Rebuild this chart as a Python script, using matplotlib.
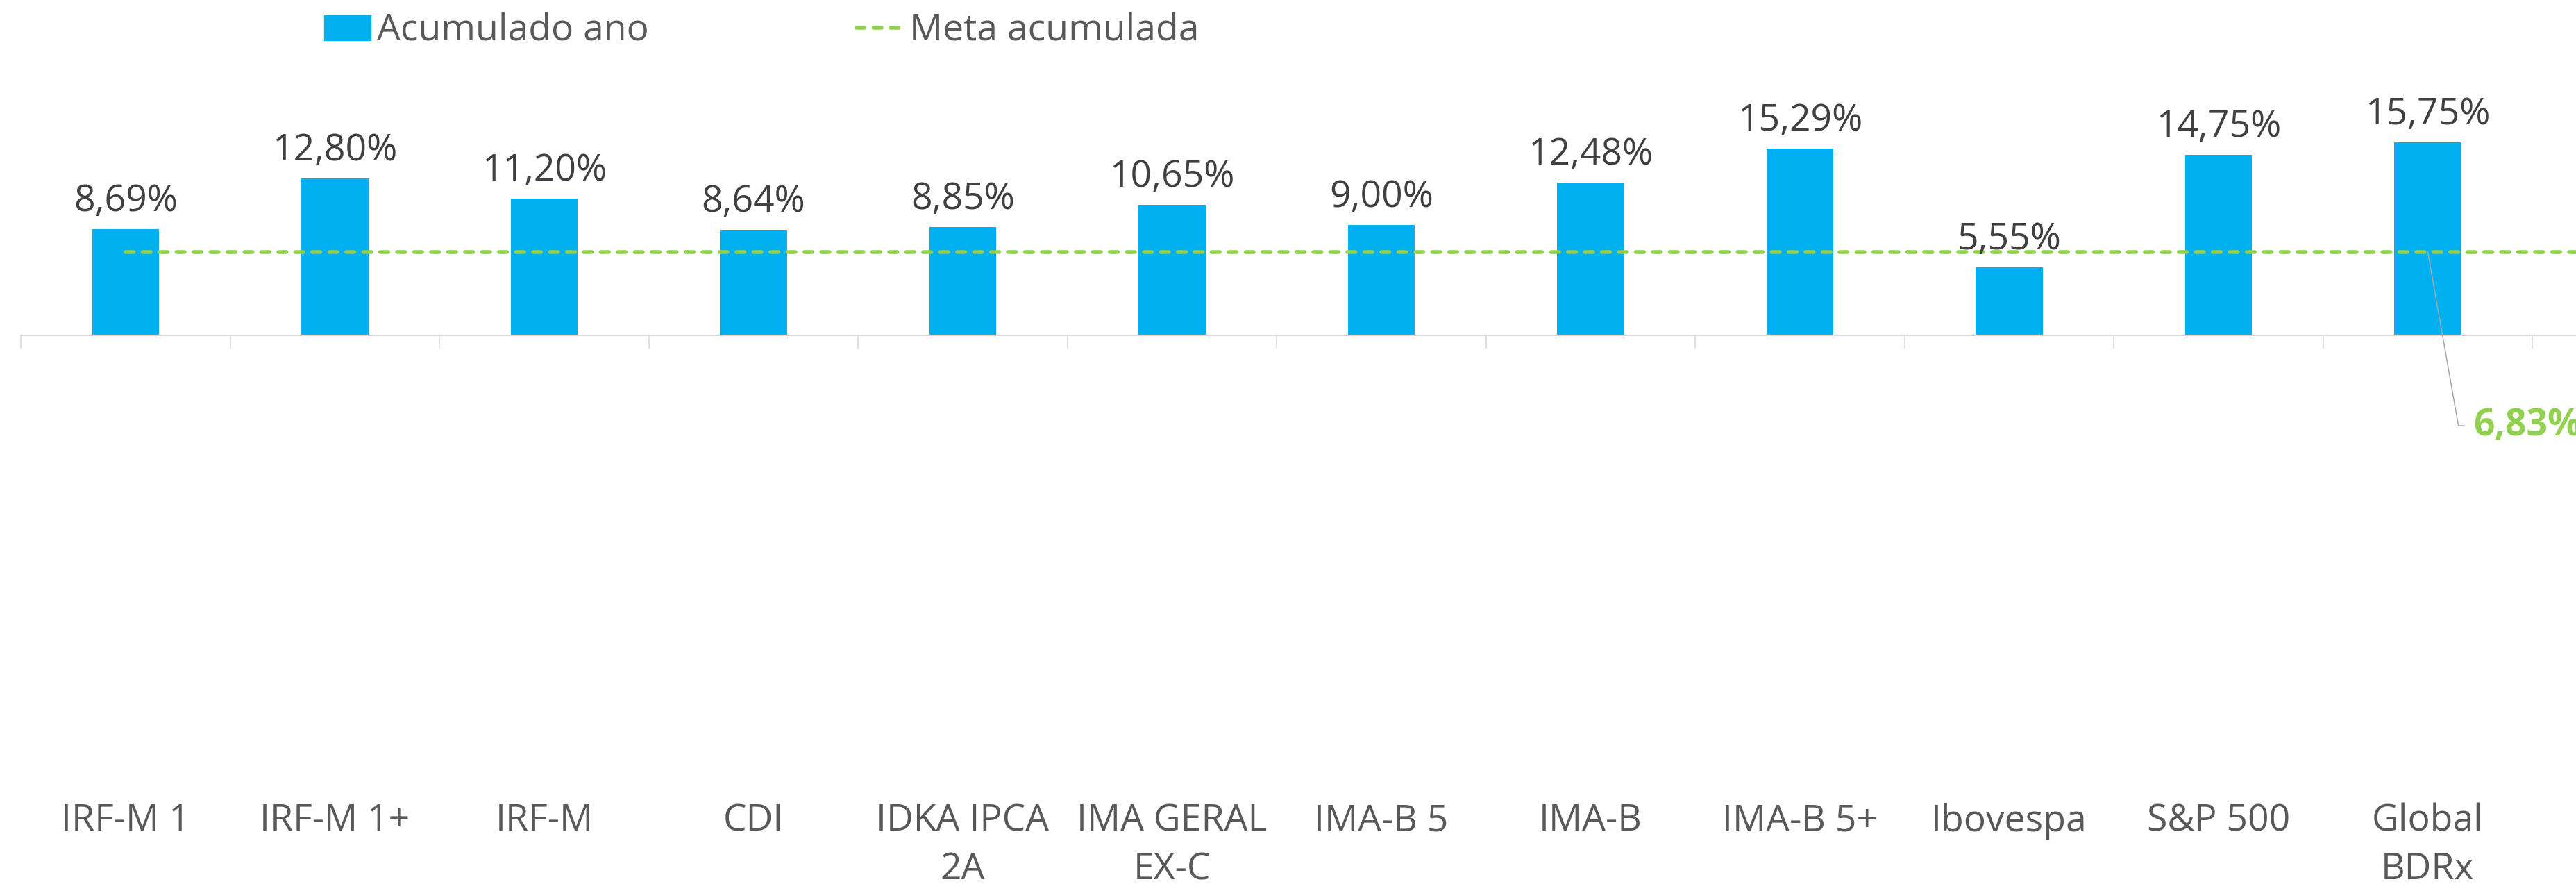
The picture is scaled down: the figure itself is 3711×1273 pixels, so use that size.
import numpy as np
import matplotlib
matplotlib.use("Agg")
import matplotlib.pyplot as plt
import matplotlib.transforms as mtransforms
from matplotlib.lines import Line2D
from matplotlib.patches import Patch

categories = ['IRF-M 1', 'IRF-M 1+', 'IRF-M', 'CDI', 'IDKA IPCA\n2A', 'IMA GERAL\nEX-C',
              'IMA-B 5', 'IMA-B', 'IMA-B 5+', 'Ibovespa', 'S&P 500', 'Global\nBDRx']
values = [8.69, 12.80, 11.20, 8.64, 8.85, 10.65, 9.00, 12.48, 15.29, 5.55, 14.75, 15.75]
meta = 6.83

plt.rcParams['font.family'] = ['Open Sans', 'DejaVu Sans']

W, H = 3712, 1273
fig = plt.figure(figsize=(W / 100, H / 100), dpi=100)

x0 = 30.25        # left edge of plot (px)
step = 301.5      # category width (px)
y_axis = 483      # zero line (px from top)
ppu = 17.62       # px per percent
top_px, bot_px = 100, 1120

ax = fig.add_axes([x0 / W, 1 - bot_px / H, (W - x0) / W, (bot_px - top_px) / H])
ax.set_xlim(-0.5, -0.5 + (W - x0) / step)
ax.set_ylim(-(bot_px - y_axis) / ppu, (y_axis - top_px) / ppu)

x = np.arange(len(categories))
FS = 38.5
blue = '#00b0f0'
green = '#92d050'

ax.bar(x, values, width=0.32, color=blue, zorder=2, label='Acumulado ano')
meta_line, = ax.plot([0, ax.get_xlim()[1]], [meta, meta], color=green, lw=4.0,
                     dashes=(2.1, 2.3), dash_capstyle='round', zorder=3, clip_on=False,
                     label='Meta acumulada')

for xi, v in zip(x, values):
    ax.annotate(f"{v:.2f}%".replace('.', ','), (xi, v), xytext=(0, 26),
                textcoords='offset pixels', ha='center', va='baseline',
                fontsize=FS, color='#404040')

# axis styling
for s in ['top', 'right', 'left']:
    ax.spines[s].set_visible(False)
ax.spines['bottom'].set_position(('data', 0))
ax.spines['bottom'].set_color('#d9d9d9')
ax.spines['bottom'].set_linewidth(1.6)
ax.set_yticks([])
ax.set_xticks(np.arange(-0.5, len(categories), 1))
ax.tick_params(axis='x', direction='out', length=13.7, width=1.2, color='#d9d9d9',
               labelbottom=False)

trans = mtransforms.blended_transform_factory(ax.transData, fig.transFigure)
for xi, c in zip(x, categories):
    ax.text(xi, 1 - 1156 / H, c, transform=trans, ha='center', va='top',
            fontsize=FS, color='#595959', linespacing=1.4)

# meta annotation
ax.annotate("6,83%".replace('.', ','), xy=(len(categories) - 1, meta),
            xytext=(3563, H - 613), textcoords='figure pixels',
            ha='left', va='center', fontsize=FS, fontweight='bold', color=green,
            arrowprops=dict(arrowstyle='-', color='#a6a6a6', lw=1.1,
                            shrinkA=7, shrinkB=0,
                            connectionstyle='angle,angleA=0,angleB=100,rad=0'),
            annotation_clip=False)

leg = fig.legend(handles=[Patch(color=blue, label='Acumulado ano'), meta_line],
                 loc='center left', bbox_to_anchor=(467 / W, 1 - 45 / H),
                 ncol=2, frameon=False, fontsize=FS, labelcolor='#595959',
                 handlelength=1.25, handleheight=0.65, handletextpad=0.17,
                 columnspacing=5.6, borderpad=0, borderaxespad=0)

fig.savefig('out.png', dpi=100)
